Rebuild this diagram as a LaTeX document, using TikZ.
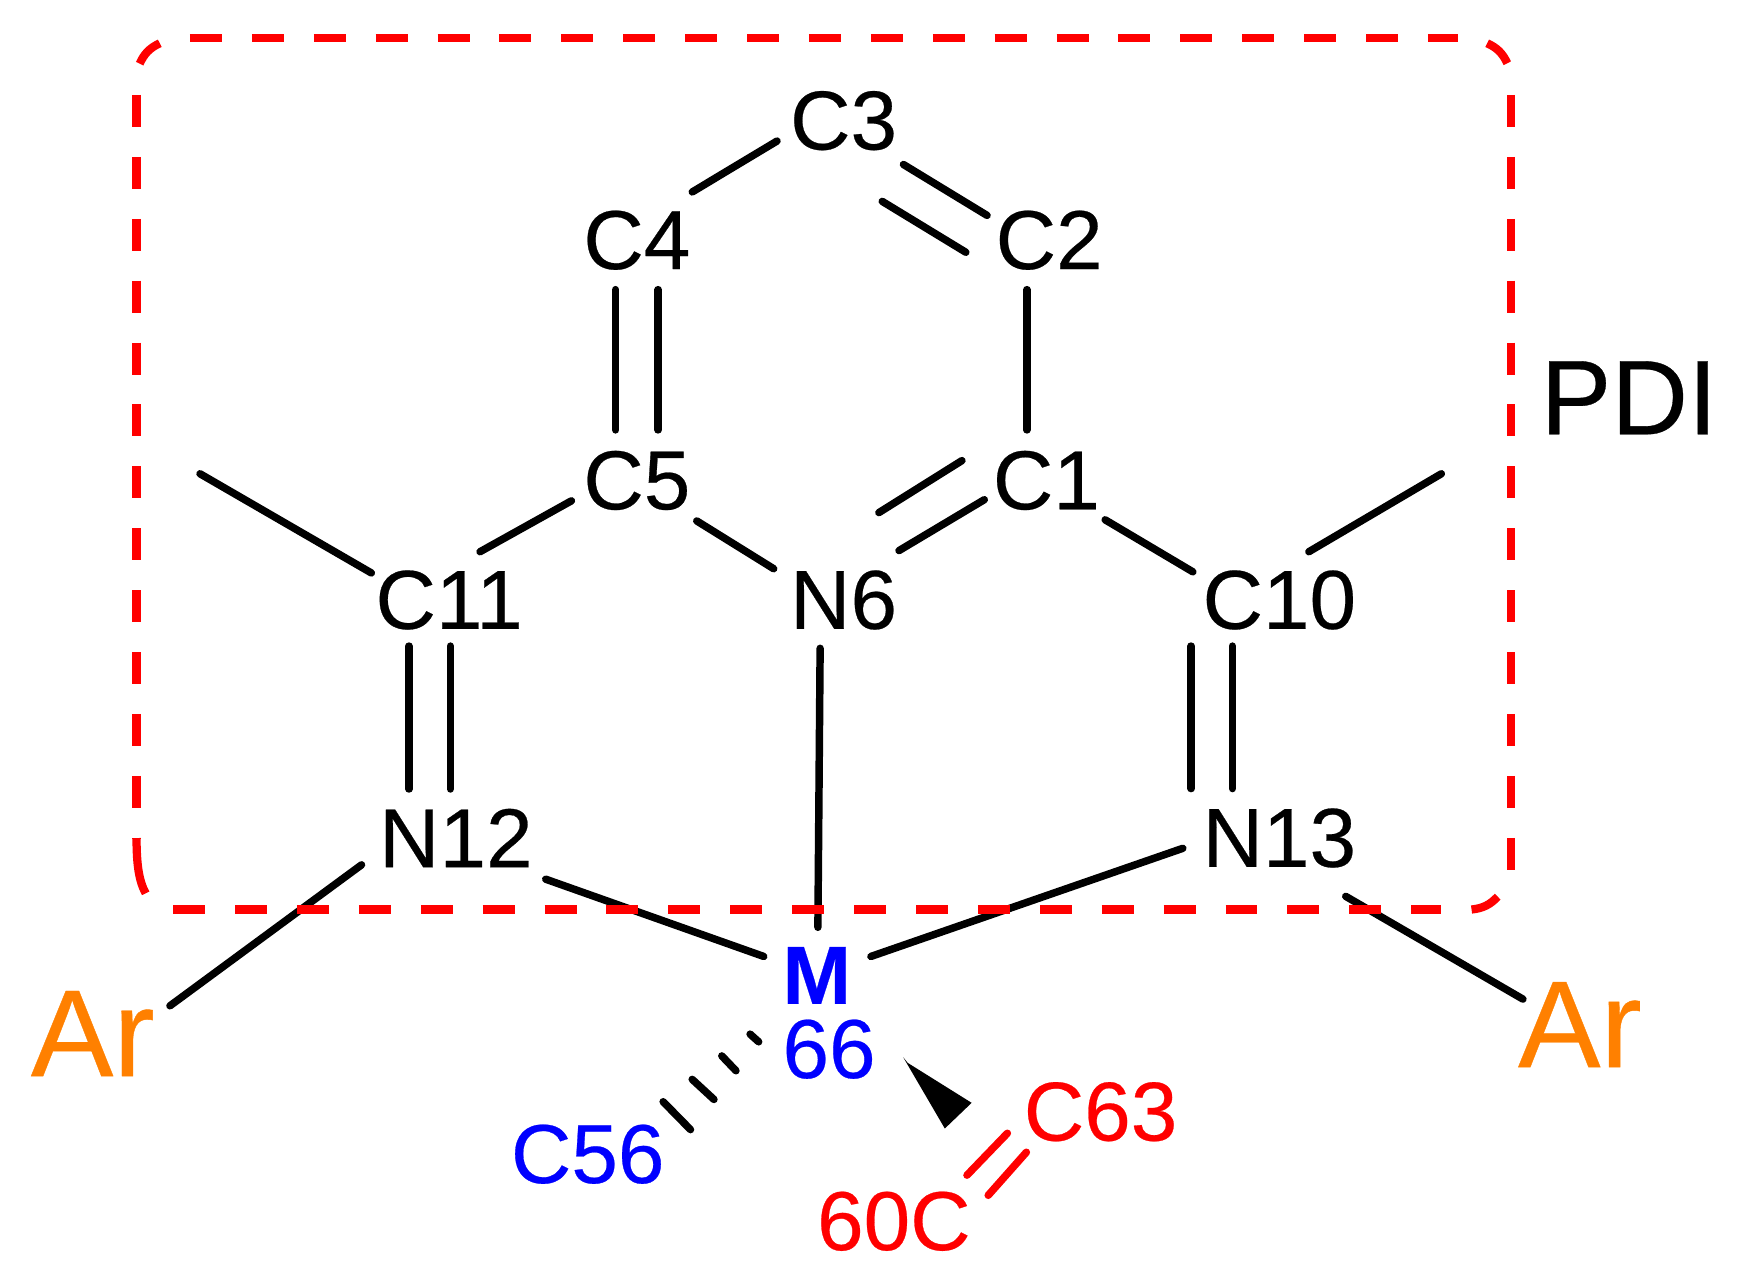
\documentclass[tikz,border=0pt]{standalone}
\usepackage{fontspec}
\setmainfont[FakeBold=0.3]{Liberation Sans}
\usepackage{xcolor}
\usepackage{tikz}
\usetikzlibrary{calc}
\definecolor{arorange}{rgb}{1, 0.5, 0}
\begin{document}
\begin{tikzpicture}[x=0.01cm, y=-0.01cm,
	atom/.style={inner sep=0pt, font=\fontsize{21.3}{22}\selectfont},
	bond/.style={line width=1.9pt, line cap=round},
	pdibox/.style={red, line width=2.1pt, dash pattern=on 28.6*0.01cm off 26.8*0.01cm},
	pdicorner/.style={red, line width=2.1pt}]
			\useasboundingbox (0,0) rectangle (1568,1148);
			\node[atom] (c3) at (755,108) {C3};
			\node[atom] (c4) at (570,215) {C4};
			\node[atom] (c2) at (939,215) {C2};
			\node[atom] (c5) at (570,430) {C5};
			\node[atom] (c1) at (936.5,430) {C1};
			\node[atom] (n6) at (755,537) {N6};
			\node[atom] (c11) at (402,537) {C11};
			\node[atom] (c10) at (1145,537) {C10};
			\node[atom] (n12) at (408,750) {N12};
			\node[atom] (n13) at (1145,750) {N13};
			\node[atom, blue, font=\fontsize{21}{21}\selectfont\bfseries] (m) at (731,873) {M};
			\node[atom, blue] (n66) at (742,939) {66};
			\node[atom, blue] (c56) at (526,1033) {C56};
			\node[atom, red] (c63) at (985,995) {C63};
			\node[atom, red] (c60) at (800,1093) {60C};
			\node[atom, arorange, font=\fontsize{31.5}{32}\selectfont] (arl) at (83,925) {Ar};
			\node[atom, arorange, font=\fontsize{31.5}{32}\selectfont] (arr) at (1414,917) {Ar};
			\node[atom, font=\fontsize{27}{27}\selectfont] (pdi) at (1458,356) {PDI};
			\coordinate (mel) at (179,424);
			\coordinate (mer) at (1290,424);
			\draw[bond] ([shift={(1,-16)}]c4.north east) -- ([shift={(-11,-9)}]c3.south west);
			\draw[bond] ([shift={(5,12)}]c3.south east) -- ([shift={(-7,5)}]c2.north west);
			\draw[bond] ([shift={(-14,45)}]c3.south east) -- ([shift={(-26,38)}]c2.north west);
			\draw[bond] ([shift={(-20,17)}]c2.south) -- ([shift={(-17.5,-18)}]c1.north);
			\draw[bond] ([shift={(-19,17)}]c4.south) -- ([shift={(-19,-18)}]c5.north);
			\draw[bond] ([shift={(19,17)}]c4.south) -- ([shift={(19,-18)}]c5.north);
			\draw[bond] ([shift={(-27,-45)}]c1.south west) -- ([shift={(-17,-51)}]n6.north east);
			\draw[bond] ([shift={(-7,-10)}]c1.south west) -- ([shift={(1,-17)}]n6.north east);
			\draw[bond] ([shift={(5,9)}]c5.south east) -- ([shift={(-14,-28)}]n6.west);
			\draw[bond] ([shift={(-10,-9)}]c5.south west) -- ([shift={(-39,-16)}]c11.north east);
			\draw[bond] (mel) -- ([shift={(-3,3)}]c11.north west);
			\draw[bond] ([shift={(4,8)}]c1.south east) -- ([shift={(-8,2)}]c10.north west);
			\draw[bond] ([shift={(-43,-16)}]c10.north east) -- (mer);
			\draw[bond] ([shift={(-36,14)}]c11.south) -- ([shift={(-42,-17)}]n12.north);
			\draw[bond] ([shift={(1,14)}]c11.south) -- ([shift={(-5,-17)}]n12.north);
			\draw[bond] ([shift={(-79,14)}]c10.south) -- ([shift={(-79,-17)}]n13.north);
			\draw[bond] ([shift={(-42,14)}]c10.south) -- ([shift={(-42,-17)}]n13.north);
			\draw[bond] ([shift={(-21,16)}]n6.south) -- ([shift={(1,-17)}]m.north);
			\draw[bond] ([shift={(11,10)}]n12.south east) -- ([shift={(-16,-17)}]m.west);
			\draw[bond] ([shift={(-17,-18)}]n13.south west) -- ([shift={(17,-17)}]m.east);
			\draw[bond] ([shift={(-15,24)}]n12.west) -- ([shift={(13,14)}]arl.north east);
			\draw[bond] ([shift={(-10,25)}]n13.south east) -- ([shift={(-51,16)}]arr.north);
			\fill ([shift={(24,-20)}]n66.south east) -- ([shift={(28,-15)}]n66.south east) -- ([shift={(-46,-8)}]c63.west) -- ([shift={(-70,15)}]c63.west) -- cycle;
			\foreach \ax/\ay/\bx/\by in {67.5/-47/92/-22, 93.5/-67/113/-49, 120/-88/132.7/-74.7, 145.3/-107.5/153/-100.6}
				\draw[bond] ([shift={(\ax,\ay)}]c56.center) -- ([shift={(\bx,\by)}]c56.center);
			\draw[bond, red] ([shift={(-14,-8)}]c63.south west) -- ([shift={(-4,-14)}]c60.north east);
			\draw[bond, red] ([shift={(3,9)}]c63.south west) -- ([shift={(15,4)}]c60.north east);
			\draw[pdibox] (170,34) -- (1305,34);
			\draw[pdibox] (1352.4,85) -- (1352.4,779);
			\draw[pdibox] (155,814) -- (1290,814);
			\draw[pdibox] (122.2,85) -- (122.2,750);
			\draw[pdicorner] (125,57) to[bend left=20] (143,38.7);
			\draw[pdicorner] (1331,38.7) to[bend left=20] (1349,56.6);
			\draw[pdicorner] (1340.4,802.5) to[bend left=20] (1317,814);
			\draw[pdicorner] (122.2,750) .. controls (122.2,772) and (124,788) .. (130.4,799.5);
			\end{tikzpicture}
\end{document}
